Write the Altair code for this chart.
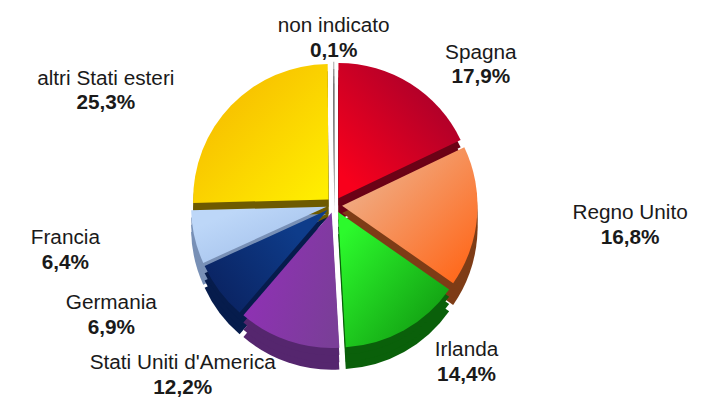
import math
import altair as alt
import pandas as pd

# ---- data ----
labels = ["Spagna", "Regno Unito", "Irlanda", "Stati Uniti d'America",
          "Germania", "Francia", "altri Stati esteri", "non indicato"]
values = [17.9, 16.8, 14.4, 12.2, 6.9, 6.4, 25.3, 0.1]
pct_text = ["17,9%", "16,8%", "14,4%", "12,2%", "6,9%", "6,4%", "25,3%", "0,1%"]

# ---- styling ----
light_colors = ["#F8001C", "#EEB38F", "#2CFA2C", "#922FB8",
                "#0E3C8A", "#BDD7F8", "#F6B800", "#9A9A9A"]
dark_colors = ["#A2002C", "#FF6A1E", "#119A11", "#7A3E98",
               "#0A2260", "#A0BEEA", "#FFEE00", "#6E6E6E"]
# gradient direction (x1, y1, x2, y2) in each slice's bounding box
grad_dirs = [(0.1, 0.9, 0.9, 0.1), (0.1, 0.1, 0.9, 0.9), (0.1, 0.1, 0.9, 0.9),
             (0.0, 0.3, 1.0, 0.7), (0.8, 0.3, 0.0, 0.8), (0.2, 0.2, 0.9, 0.9),
             (0.1, 0.1, 0.95, 0.95), (0.0, 0.0, 1.0, 1.0)]
side_colors = ["#6C0216", "#7E3C16", "#0A600A", "#55266E",
               "#061C4C", "#7890B6", "#6E5A00", "#555555"]

df = pd.DataFrame({
    "label": labels,
    "value": values,
    "pct": pct_text,
    "order": list(range(len(labels))),
})

CX, CY = 330, 197        # pie centre (plot coordinates)
R = 137                  # pie radius
EXPLODE = 8              # slice offset
DEPTH = 22               # thickness of the 3D side
LCX, LCY = 330, 203      # label placement centre
RY = 175                 # vertical label radius

side_scale = alt.Scale(domain=labels, range=side_colors)
theta_scale = alt.Scale(domain=[0, 100], range=[0, 2 * math.pi])

base = alt.Chart(df).transform_window(
    cum="sum(value)", sort=[alt.SortField("order")], frame=[None, 0]
).transform_calculate(
    c0="datum.cum - datum.value",
    c1="datum.cum",
    mid="(datum.cum - datum.value / 2) / 100 * 2 * PI",
).transform_calculate(
    ex=f"{CX} + {EXPLODE} * sin(datum.mid)",
    ey=f"{CY} - {EXPLODE} * cos(datum.mid)",
    s="sin(datum.mid)",
    # rough half width of the label text: narrow glyphs count less
    nn="length(datum.label) - length(replace(datum.label, regexp(\"[iltrfI' ]\", \"g\"), \"\"))",
).transform_calculate(
    sg="datum.s > 0.2 ? 1 : (datum.s < -0.2 ? -1 : 0)",
    hw="length(datum.label) * 5.85 - datum.nn * 3.0",
).transform_calculate(
    lx=f"{LCX} + datum.s * (175 + 70 * abs(datum.s)) + datum.sg * datum.hw",
    ly=f"{LCY} - {RY} * cos(datum.mid)",
)

arc_enc = dict(
    theta=alt.Theta("c0:Q", scale=theta_scale),
    theta2="c1:Q",
    x=alt.X("ex:Q", scale=None),
)


def side(offset):
    return base.transform_calculate(
        ey2=f"datum.ey + {offset}"
    ).mark_arc(radius=R).encode(
        y=alt.Y("ey2:Q", scale=None),
        color=alt.Color("label:N", scale=side_scale, legend=None),
        **arc_enc,
    )


sides = alt.layer(side(DEPTH), side(DEPTH * 2 / 3), side(DEPTH / 3))

top_layers = []
for name, lc, dc, (x1, y1, x2, y2) in zip(labels, light_colors, dark_colors, grad_dirs):
    grad = alt.Gradient(
        gradient="linear",
        stops=[alt.GradientStop(color=lc, offset=0),
               alt.GradientStop(color=dc, offset=1)],
        x1=x1, y1=y1, x2=x2, y2=y2,
    )
    top_layers.append(
        base.transform_filter(alt.datum.label == name)
        .mark_arc(radius=R, fill=grad)
        .encode(y=alt.Y("ey:Q", scale=None), **arc_enc)
    )
tops = alt.layer(*top_layers)

FONT = "Liberation Sans, Arial, DejaVu Sans"

name_text = base.mark_text(
    font=FONT, fontSize=21, color="#1a1a1a", dy=-12
).encode(
    x=alt.X("lx:Q", scale=None), y=alt.Y("ly:Q", scale=None), text="label:N"
)
pct_label = base.mark_text(
    font=FONT, fontSize=21, fontWeight="bold", color="#1a1a1a", dy=13
).encode(
    x=alt.X("lx:Q", scale=None), y=alt.Y("ly:Q", scale=None), text="pct:N"
)

chart = alt.layer(
    sides, tops, name_text, pct_label
).resolve_scale(
    color="independent"
).properties(
    width=700, height=399,
    autosize=alt.AutoSizeParams(type="none"),
    padding=0,
).configure_view(stroke=None)

chart.save("out.html", embed_options={"renderer": "svg", "actions": False})
